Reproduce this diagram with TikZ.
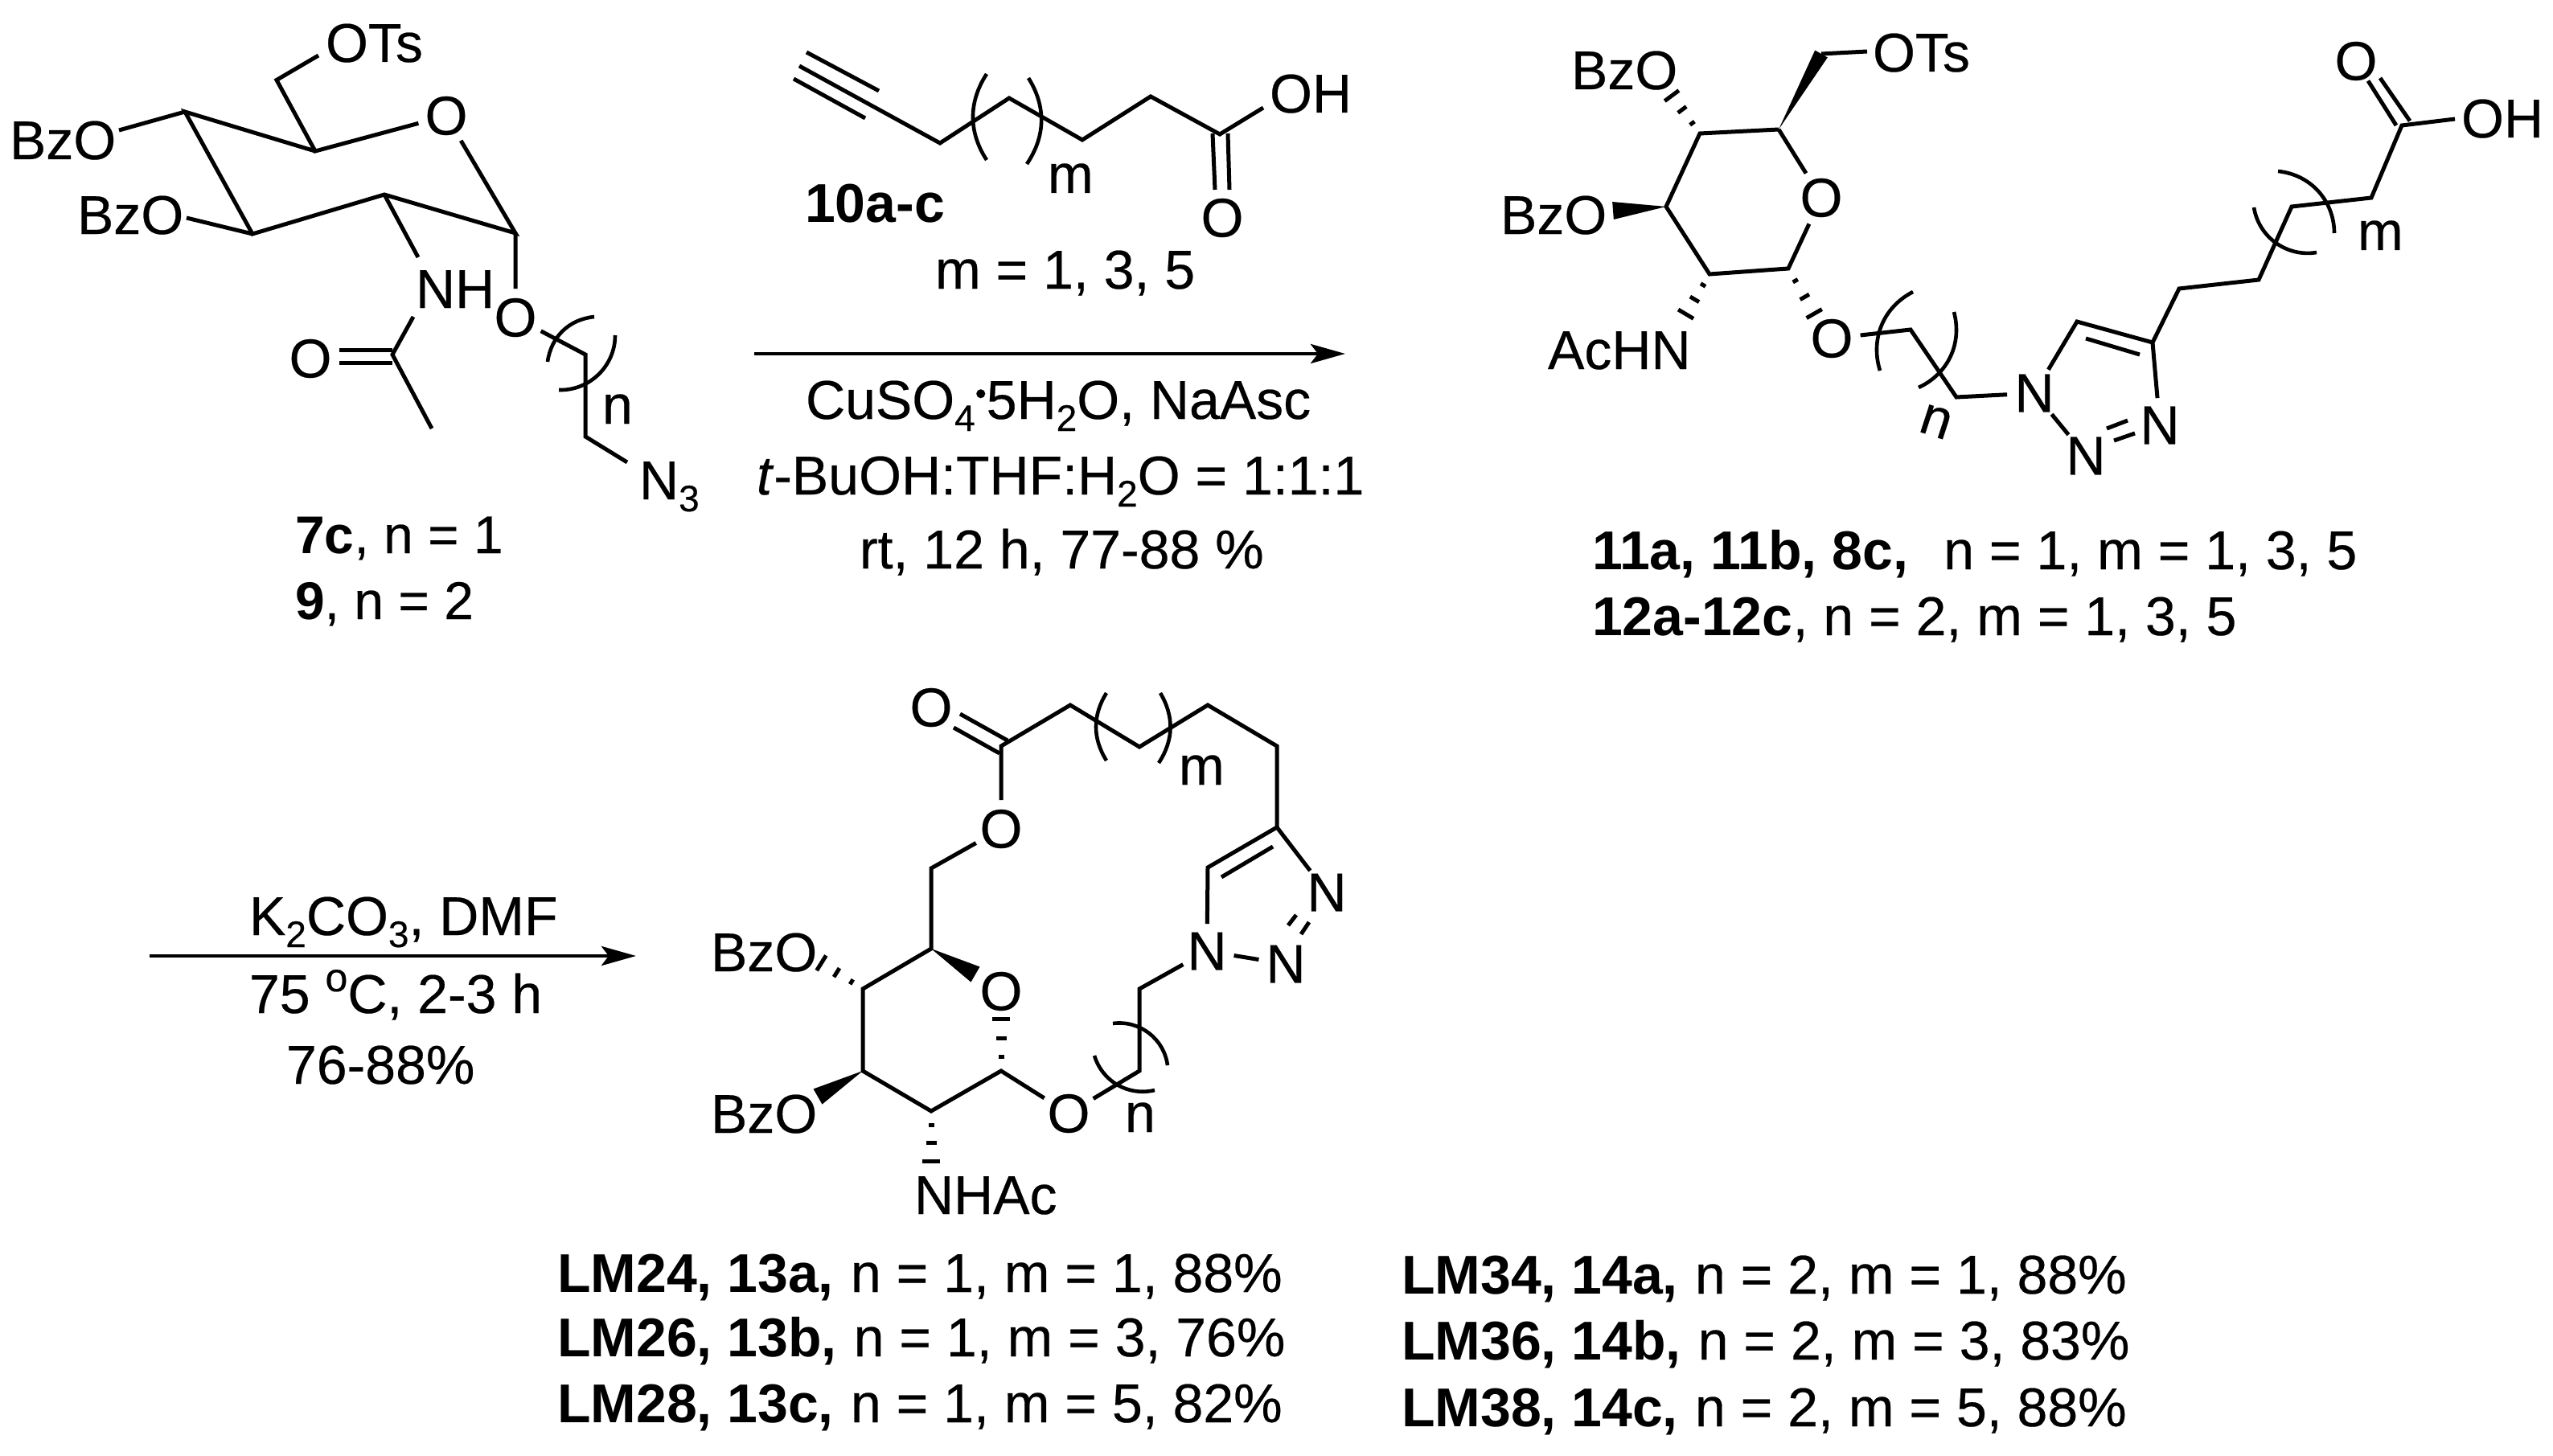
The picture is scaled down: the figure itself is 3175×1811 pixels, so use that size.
\documentclass[tikz,border=0pt]{standalone}
\usepackage{fontspec}
\setmainfont{Liberation Sans}[UprightFeatures={FakeBold=0.35},ItalicFeatures={FakeBold=0.35}]
\usetikzlibrary{calc,arrows.meta}
\newcommand\csub[1]{\raisebox{-15pt}{\fontsize{46}{46}\selectfont #1}}
\newcommand\csup[1]{\raisebox{27pt}{\fontsize{50}{50}\selectfont #1}}
\newcommand\cdotb{\raisebox{18pt}{\fontsize{40}{40}\selectfont\textbullet}}
\tikzset{
 bond/.style={line width=5pt,line join=miter,line cap=butt},
 brk/.style={line width=4.6pt},
 txt/.style={inner sep=0pt,outer sep=0pt,anchor=base west,font=\fontsize{68}{72}\selectfont},
 atom/.style={circle,inner sep=0pt,minimum size=62pt,font=\fontsize{68}{72}\selectfont},
 rxn/.style={line width=4.6pt,-{Stealth[length=43pt,width=24pt,inset=9pt]}}
}
\newcommand\hashb[2]{\foreach \f/\w in {0.25/3.5,0.58/6.5,0.92/11}{%
  \coordinate (hp) at ($(#1)!\f!(#2)$);
  \draw[bond] ($(hp)!\w pt!90:(#1)$) -- ($(hp)!\w pt!-90:(#1)$);}}
\newcommand\wedgeb[3]{\fill ($(#2)!#3 pt!90:(#1)$) -- (#1) -- ($(#2)!#3 pt!-90:(#1)$) -- cycle;}
\begin{document}
\begin{tikzpicture}[x=1pt,y=-1pt]
\useasboundingbox (0,0) rectangle (3175,1811);
\fill[white] (0,0) rectangle (3175,1811);
% ---------- compound 7c / 9
\foreach \n/\x/\y in {a1/396/69,a2/344/99.5,a3/392/188,a4/641/290,a5/478/242,a6/314/291,a7/230/139,
 a8/148/162,a9/232/271,a10/520/320,a11/514/394,a12/488/441,a13/537/533,a14/728/441,a15/728/543,a16/780/575,
 a17/422/435,a18/488/435,a19/422/451.5,a20/488/451.5}
 \coordinate (\n) at (\x,\y);
\node[atom] (ao1) at (555,144) {O};
\node[atom] (ao2) at (386,446) {O};
\node[atom] (ao3) at (641,395) {O};
\node[txt] (aots) at (405,77) {OTs};
\node[txt] (abz1) at (12,198) {BzO};
\node[txt] (abz2) at (96,291) {BzO};
\node[txt] (anh) at (517,383) {NH};
\node[txt] (an3) at (795,621) {N\csub{3}};
\node[txt] (an) at (749,527) {n};
\node[txt,font=\fontsize{66}{72}\selectfont] (al1) at (367,688) {\textbf{7c}, n = 1};
\node[txt,font=\fontsize{66}{72}\selectfont] (al2) at (367,770) {\textbf{9}, n = 2};
\draw[bond] (a1) -- (a2) -- (a3) -- (ao1) -- (a4) -- (a5) -- (a6) -- (a7) -- (a3);
\draw[bond] (a7) -- (a8) (a6) -- (a9) (a5) -- (a10) (a11) -- (a12) -- (a13);
\draw[bond] (a17) -- (a18) (a19) -- (a20);
\draw[bond] (a4) -- (ao3) -- (a14) -- (a15) -- (a16);
\draw[brk] (739,394) to[bend right=38] (681,450);
\draw[brk] (765,417) to[bend left=46] (695,485);
% ---------- alkyne 10
\foreach \n/\x/\y in {b1/987/98,b2/1076/147,b3/994/82,b4/1169/178,b5/1003/65,b6/1093/113,b7/1255/122,b8/1346/174,
 b9/1431/120,b10/1517/167,b11/1571/134,b12/1508/166,b13/1511/236,b14/1527/166,b15/1529/236}
 \coordinate (\n) at (\x,\y);
\node[atom] (bo) at (1520,271) {O};
\node[txt] (boh) at (1579,140) {OH};
\node[txt] (bm) at (1303,240) {m};
\node[txt] (bl) at (1001,277) {\textbf{10a-c}};
\node[txt] (bl2) at (1163,359) {m = 1, 3, 5};
\draw[bond] (b1) -- (b2) (b5) -- (b6);
\draw[bond] (b3) -- (b4) -- (b7) -- (b8) -- (b9) -- (b10) -- (b11);
\draw[bond] (b12) -- (b13) (b14) -- (b15);
\draw[brk] (1227,92) to[bend right=33] (1227,199);
\draw[brk] (1279,97) to[bend left=33] (1277,204);
% ---------- arrow 1
\coordinate (r1s) at (938,440); \coordinate (r1e) at (1673,440);
\draw[rxn] (r1s) -- (r1e);
\node[txt] (r1a) at (1002,521) {CuSO\csub{4}\cdotb 5H\csub{2}O, NaAsc};
\node[txt] (r1b) at (941,615) {\textit{t}-BuOH:THF:H\csub{2}O = 1:1:1};
\node[txt] (r1c) at (1069,707) {rt, 12 h, 77-88 \%};
% ---------- compound 11/12
\foreach \n/\x/\y in {c1/2212/161,c2/2265/67,c3/2114/166,c4/2224/334,c5/2126/341,c6/2072/257,
 c7/2376/410,c8/2433/494,c9/2583/400,c10/2677/426,c11/2594/421,c12/2661/441,c13/2710/359,c14/2809/348,c15/2850/257,
 c16/2949/246,c17/2987/156,c18/3053/148,c19/2960/97,c20/2997/150.5,c21/2945/100.5,c22/2980/156,
 c23/2322/64,c24/2076/115,c25/2006/262,c26/2094/395,c27/2259/395,
 c28/2620/533,c29/2646/523,c30/2629/548,c31/2655/539}
 \coordinate (\n) at (\x,\y);
\node[atom] (co1) at (2265,246) {O};
\node[atom] (co2) at (2278,421) {O};
\node[atom] (co3) at (2930,76) {O};
\node[atom] (cn1) at (2530,489) {N};
\node[atom] (cn2) at (2594,567) {N};
\node[atom] (cn3) at (2686,529) {N};
\node[txt] (cots) at (2329,89) {OTs};
\node[txt] (cbz1) at (1954,111) {BzO};
\node[txt] (cbz2) at (1866,291) {BzO};
\node[txt] (cac) at (1925,459) {AcHN};
\node[txt] (coh) at (3061,171) {OH};
\node[txt] (cm) at (2932,311) {m};
\node[txt,rotate=-18] (cn) at (2384,536) {n};
\node[txt] (cl1) at (1980,708) {\textbf{11a, 11b, 8c,}\hspace{44pt}n = 1, m = 1, 3, 5};
\node[txt] (cl2) at (1980,790) {\textbf{12a-12c}, n = 2, m = 1, 3, 5};
\wedgeb{c1}{c2}{9}
\draw[bond] (c2) -- (c23);
\draw[bond] (c1) -- (co1) -- (c4) -- (c5) -- (c6) -- (c3) -- (c1);
\hashb{c3}{c24}
\wedgeb{c6}{c25}{11}
\hashb{c5}{c26}
\hashb{c4}{c27}
\draw[bond] (co2) -- (c7) -- (c8) -- (cn1) -- (c9) -- (c10) -- (c13) -- (c14) -- (c15) -- (c16) -- (c17) -- (c18);
\draw[bond] (c11) -- (c12) (c10) -- (cn3) (cn1) -- (cn2) (c28) -- (c29) (c30) -- (c31);
\draw[bond] (c19) -- (c20) (c21) -- (c22);
\draw[brk] (2379,363) to[bend right=40] (2338,461);
\draw[brk] (2430,388) to[bend left=40] (2386,482);
\draw[brk] (2833,213) to[bend left=42] (2903,290);
\draw[brk] (2803,258) to[bend right=45] (2881,314);
% ---------- arrow 2
\coordinate (r2s) at (186,1189); \coordinate (r2e) at (791,1189);
\draw[rxn] (r2s) -- (r2e);
\node[txt] (r2a) at (310,1163) {K\csub{2}CO\csub{3}, DMF};
\node[txt] (r2b) at (310,1260) {75 \csup{o}C, 2-3 h};
\node[txt] (r2c) at (356,1348) {76-88\%};
% ---------- macrocycle 13/14
\foreach \n/\x/\y in {d1/1245/928,d2/1331/877,d3/1417/929,d4/1502/877,d5/1588/928,d6/1588/1029,d7/1158/1080,d8/1158/1180,
 d9/1073/1230,d10/1073/1332,d11/1158/1382,d12/1245/1332,d13/1417/1332,d14/1417/1230,d15/1502/1079,
 d16/1519/1091,d17/1583/1053,d18/1602/1151,d19/1612/1138,d20/1618/1162,d21/1628/1147,
 d22/1194/888,d23/1253/921,d24/1186/905,d25/1243/937,d26/1245/1262,d27/1213/1212,d28/1017/1195,d29/1017/1364,d30/1158/1450}
 \coordinate (\n) at (\x,\y);
\node[atom] (do1) at (1158,880) {O};
\node[atom] (do2) at (1245,1031) {O};
\node[atom] (do3) at (1245,1233) {O};
\node[atom] (do4) at (1329,1385) {O};
\node[atom] (dn1) at (1501,1183) {N};
\node[atom] (dn2) at (1599,1199) {N};
\node[atom] (dn3) at (1650,1110) {N};
\node[txt] (dbz1) at (884,1208) {BzO};
\node[txt] (dbz2) at (884,1409) {BzO};
\node[txt] (dnh) at (1137,1510) {NHAc};
\node[txt] (dm) at (1466,976) {m};
\node[txt] (dn) at (1399,1408) {n};
\draw[bond] (do2) -- (d1) -- (d2) -- (d3) -- (d4) -- (d5) -- (d6) -- (d15) -- (dn1) -- (d14) -- (d13) -- (do4) -- (d12) -- (d11) -- (d10) -- (d9) -- (d8) -- (d7) -- (do2);
\draw[bond] (d22) -- (d23) (d24) -- (d25) (d16) -- (d17) (d6) -- (dn3) (dn1) -- (dn2) (d18) -- (d19) (d20) -- (d21);
\wedgeb{d8}{d27}{11}
\wedgeb{d10}{d29}{11}
\hashb{d9}{d28}
\hashb{d12}{d26}
\hashb{d11}{d30}
\draw[brk] (1376,862) to[bend right=32] (1376,946);
\draw[brk] (1443,862) to[bend left=32] (1441,949);
\draw[brk] (1384,1273) to[bend left=45] (1452,1325);
\draw[brk] (1361,1313) to[bend right=43] (1436,1356);
% ---------- bottom labels
\node[txt] (e1) at (693,1607) {\textbf{LM24, 13a,}\hspace{21pt}n = 1, m = 1, 88\%};
\node[txt] (e2) at (693,1687) {\textbf{LM26, 13b,}\hspace{21pt}n = 1, m = 3, 76\%};
\node[txt] (e3) at (693,1769) {\textbf{LM28, 13c,}\hspace{21pt}n = 1, m = 5, 82\%};
\node[txt] (e4) at (1743,1609) {\textbf{LM34, 14a,}\hspace{21pt}n = 2, m = 1, 88\%};
\node[txt] (e5) at (1743,1691) {\textbf{LM36, 14b,}\hspace{21pt}n = 2, m = 3, 83\%};
\node[txt] (e6) at (1743,1774) {\textbf{LM38, 14c,}\hspace{21pt}n = 2, m = 5, 88\%};
\end{tikzpicture}
\end{document}
